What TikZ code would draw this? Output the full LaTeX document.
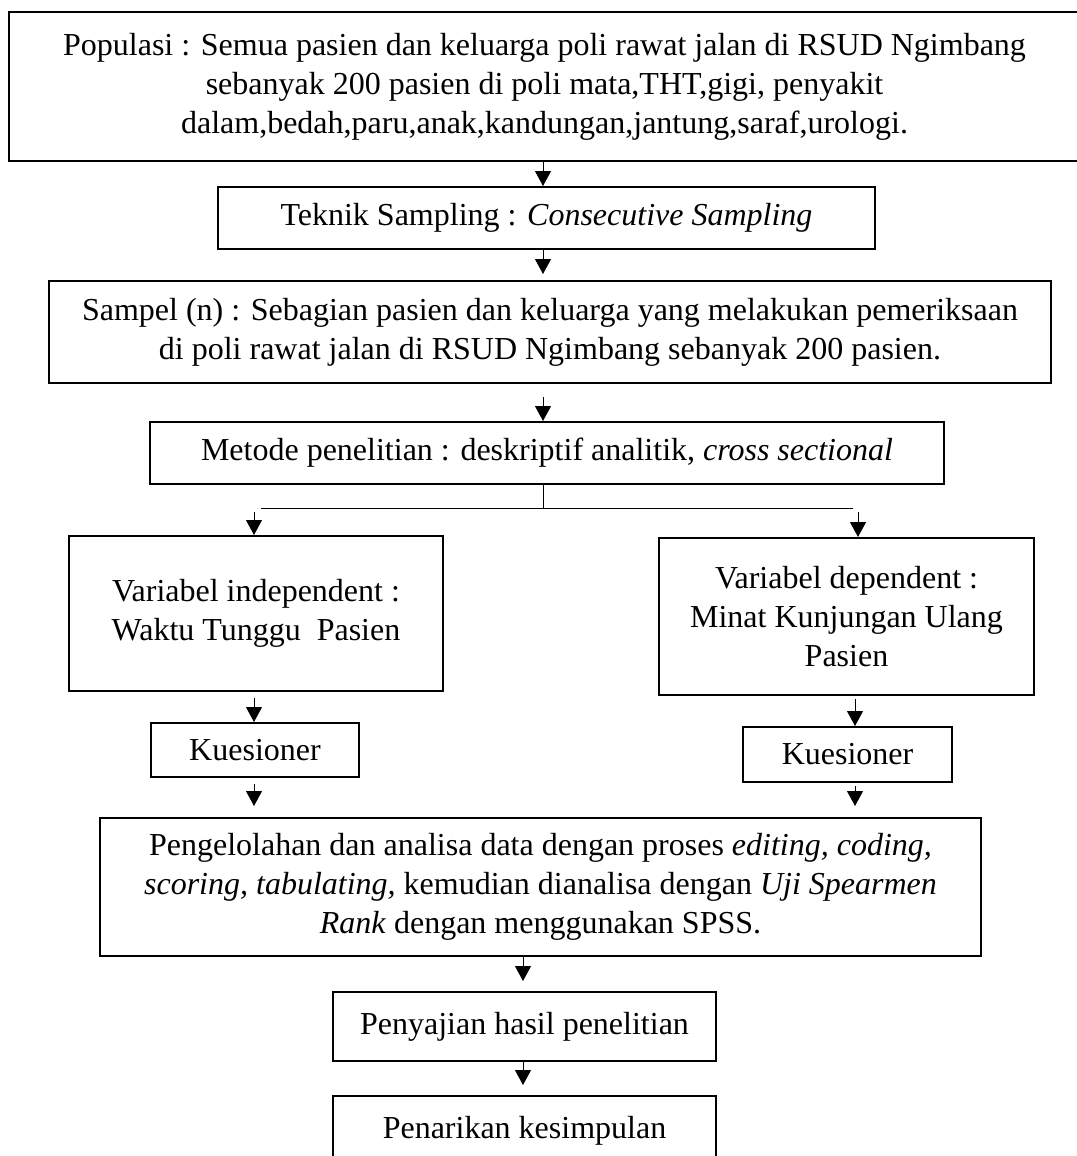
\documentclass[tikz,border=0pt]{standalone}
\usepackage{fontspec}
\setmainfont{Liberation Serif}
\usetikzlibrary{positioning,arrows.meta}

\begin{document}
\begin{tikzpicture}[%
    x=0.5pt, y=-0.5pt,                   % one unit is one pixel, y runs down
    >={Triangle[length=7.5pt,width=8pt]}, % filled heads as in the scan
    every node/.style={font=\fontsize{16}{19.5}\selectfont},
    ]
\tikzset{
  base/.style={draw, rectangle, align=center, line width=1pt, inner sep=0pt},
  norm/.style={line width=0.5pt},
  every path/.style={norm},
}
\useasboundingbox (0,0) rectangle (1076,1156);

\node [base, minimum width=535.5pt, minimum height=74.5pt] (p0) at (544.5,86.5)
  {Populasi : Semua pasien dan keluarga poli rawat jalan di RSUD Ngimbang\\
   sebanyak 200 pasien di poli mata,THT,gigi, penyakit\\
   dalam,bedah,paru,anak,kandungan,jantung,saraf,urologi.};
\node [base, minimum width=328.5pt, minimum height=31pt] (p1) at (546.5,218)
  {Teknik Sampling : \textit{Consecutive Sampling}};
\node [base, minimum width=501pt, minimum height=51pt] (p2) at (550,332)
  {Sampel (n) : Sebagian pasien dan keluarga yang melakukan pemeriksaan\\
   di poli rawat jalan di RSUD Ngimbang sebanyak 200 pasien.};
\node [base, minimum width=397pt, minimum height=31pt] (p3) at (547,453)
  {Metode penelitian : deskriptif analitik, \textit{cross sectional}};

\node [base, minimum width=187pt, minimum height=77.5pt] (p4) at (256,613.5)
  {Variabel independent :\\ Waktu Tunggu\ \ Pasien};
\node [base, minimum width=187.5pt, minimum height=78.5pt] (p5) at (846.5,616.5)
  {Variabel dependent :\\ Minat Kunjungan Ulang\\ Pasien};
\node [base, minimum width=104pt, minimum height=27pt] (p6) at (255,750) {Kuesioner};
\node [base, minimum width=104.5pt, minimum height=27.5pt] (p7) at (847.5,754.5) {Kuesioner};

\node [base, minimum width=440.5pt, minimum height=69pt] (p8) at (540.5,887)
  {Pengelolahan dan analisa data dengan proses \textit{editing, coding,}\\
   \textit{scoring, tabulating,} kemudian dianalisa dengan \textit{Uji Spearmen}\\
   \textit{Rank} dengan menggunakan SPSS.};
\node [base, minimum width=191.5pt, minimum height=34.5pt] (p9) at (524.5,1026.5)
  {Penyajian hasil penelitian};
\node [base, minimum width=191.5pt, minimum height=35pt] (p10) at (524.5,1131)
  {Penarikan kesimpulan};

% vertical axes of the arrows
\coordinate (c0) at (543,0);
\coordinate (c1) at (523,0);
\coordinate (cl) at (254,0);
\coordinate (cr) at (858,0);
\coordinate (cr2) at (855,0);
\coordinate (split) at (543,509);
\coordinate (hl) at (261,508);
\coordinate (hr) at (853,508);

\draw [->] (p0.south -| c0) -- (p1.north -| c0);
\draw [->, shorten >=3pt] (p1.south -| c0) -- (p2.north -| c0);
\draw [->, shorten <=6.5pt] (p2.south -| c0) -- (p3.north -| c0);

\draw (p3.south -| c0) -- (split);
\draw (hl) -- (hr);
\draw [->, shorten <=2pt] (hl -| cl) -- (p4.north -| cl);
\draw [->, shorten <=2pt] (hr -| cr) -- (p5.north -| cr);

\draw [->, shorten <=3pt] (p4.south -| cl) -- (p6.north -| cl);
\draw [->, shorten <=1.5pt] (p5.south -| cr2) -- (p7.north -| cr2);
\draw [->, shorten <=3pt, shorten >=5.5pt] (p6.south -| cl) -- (p8.north -| cl);
\draw [->, shorten <=1.5pt, shorten >=5.5pt] (p7.south -| cr2) -- (p8.north -| cr2);

\draw [->, shorten >=5pt] (p8.south -| c1) -- (p9.north -| c1);
\draw [->, shorten >=5pt] (p9.south -| c1) -- (p10.north -| c1);

\end{tikzpicture}
\end{document}
